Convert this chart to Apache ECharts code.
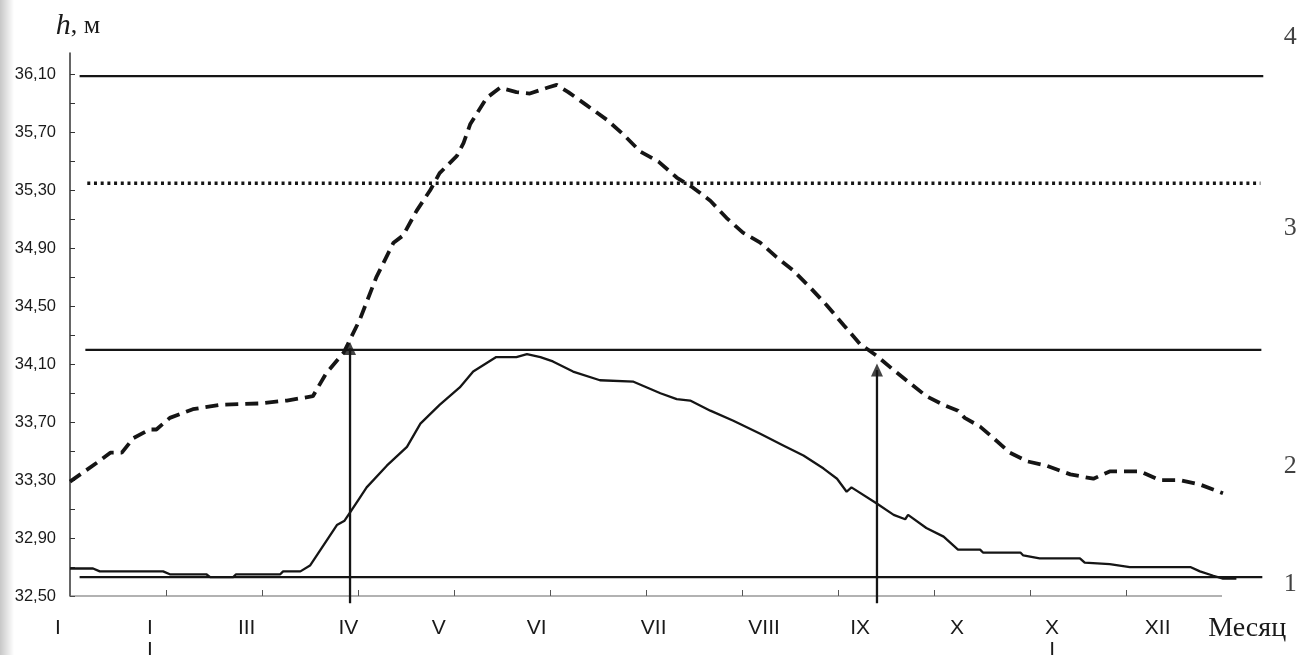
<!DOCTYPE html>
<html>
<head>
<meta charset="utf-8">
<script src="https://cdn.jsdelivr.net/npm/echarts@6/dist/echarts.min.js"></script>
<style>html,body{margin:0;padding:0;background:#fff;}#c{width:1302px;height:655px;}</style>
</head>
<body>
<div id="c"></div>
<script>
// ---- data (month position on x: 0 = start of January, 12 = end of December; level h in metres) ----
const curve1Month = [0.00,0.24,0.31,0.97,1.04,1.42,1.46,1.70,1.73,2.19,2.22,2.40,2.50,2.64,2.78,2.86,2.93,3.02,3.09,3.30,3.51,3.65,3.85,4.06,4.20,4.44,4.65,4.76,4.90,5.03,5.24,5.52,5.87,6.01,6.15,6.32,6.46,6.67,6.91,7.19,7.43,7.64,7.85,7.99,8.09,8.14,8.40,8.58,8.70,8.73,8.92,9.10,9.25,9.48,9.51,9.90,9.93,10.10,10.52,10.57,10.83,11.04,11.67,11.77,11.91,12.01,12.15];
const curve1Level = [32.69,32.69,32.67,32.67,32.65,32.65,32.63,32.63,32.65,32.65,32.67,32.67,32.71,32.85,32.99,33.02,33.09,33.18,33.25,33.40,33.53,33.69,33.82,33.94,34.05,34.15,34.15,34.17,34.15,34.12,34.05,33.99,33.98,33.94,33.90,33.86,33.85,33.78,33.71,33.62,33.54,33.47,33.38,33.31,33.22,33.25,33.14,33.06,33.03,33.06,32.97,32.91,32.82,32.82,32.80,32.80,32.78,32.76,32.76,32.73,32.72,32.70,32.70,32.67,32.64,32.62,32.62];

const curve2Month = [0.00,0.28,0.42,0.54,0.66,0.83,0.90,1.04,1.28,1.56,1.98,2.26,2.53,2.67,2.85,3.02,3.19,3.37,3.47,3.61,3.75,3.85,4.03,4.10,4.17,4.34,4.48,4.65,4.79,4.97,5.07,5.19,5.38,5.59,5.76,5.94,6.13,6.32,6.49,6.67,6.84,7.01,7.19,7.36,7.53,7.71,7.88,8.06,8.23,8.40,8.58,8.75,8.92,9.10,9.25,9.32,9.48,9.62,9.79,9.97,10.17,10.42,10.66,10.83,11.15,11.35,11.56,11.77,12.01];
const curve2Level = [33.29,33.42,33.49,33.49,33.59,33.65,33.65,33.73,33.79,33.82,33.83,33.85,33.88,34.04,34.18,34.41,34.70,34.94,34.99,35.16,35.30,35.42,35.54,35.63,35.76,35.94,36.01,35.98,35.97,36.01,36.03,35.98,35.89,35.79,35.69,35.57,35.50,35.39,35.32,35.23,35.11,35.01,34.94,34.84,34.75,34.63,34.51,34.37,34.24,34.16,34.06,33.97,33.88,33.82,33.78,33.73,33.67,33.59,33.49,33.43,33.40,33.34,33.31,33.36,33.36,33.30,33.30,33.27,33.21];

// reference levels: solid low, solid middle, dotted, solid top
const refLevels = [32.63, 34.20, 35.35, 36.09];
const refFrom   = [0.10, 0.16, 0.18, 0.10];
const refTo     = [12.42, 12.41, 12.40, 12.43];
const refDotted = [false, false, true, false];

// vertical arrows (IV and IX)
const arrowMonth = [2.917, 8.406];
const arrowBase  = [32.45, 32.45];
const arrowTip   = [34.21, 34.06];

// curve numbers on the right
const numMonth = [12.71, 12.71, 12.71, 12.71];
const numLevel = [32.58, 33.40, 35.04, 36.36];
const numText  = ['1', '2', '3', '4'];

// axes
const xAxisSpan = [0, 12];           // drawn month axis (Jan..Dec)
const xAxisFloor = 32.5;
const yTickValues = [32.5, 32.9, 33.3, 33.7, 34.1, 34.5, 34.9, 35.3, 35.7, 36.1];
const yTickLabels = ['32,50','32,90','33,30','33,70','34,10','34,50','34,90','35,30','35,70','36,10'];
const yMinorTicks = [32.5,32.7,32.9,33.1,33.3,33.5,33.7,33.9,34.1,34.3,34.5,34.7,34.9,35.1,35.3,35.5,35.7,35.9,36.1];
const monthLabelPos = [-0.125, 0.833, 1.84, 2.90, 3.84, 4.86, 6.08, 7.23, 8.23, 9.24, 10.23, 11.33];
const monthLabels = ['I', 'I\nI', 'III', 'IV', 'V', 'VI', 'VII', 'VIII', 'IX', 'X', 'X\nI', 'XII'];
const xTickValues = [1,2,3,4,5,6,7,8,9,10,11];

// ---- chart ----
const zip = (a, b) => a.map((v, i) => [v, b[i]]);
const ink = '#151515';
const series = [];

// month axis baseline (ends at December, shorter than the plot area)
series.push({
  type: 'line', clip: false, silent: true, showSymbol: false, symbol: 'none',
  data: [[xAxisSpan[0], xAxisFloor], [xAxisSpan[1], xAxisFloor]],
  lineStyle: { color: '#666', width: 1.2 }
});

refLevels.forEach((lv, i) => {
  series.push({
    type: 'line', clip: false, silent: true, showSymbol: false, symbol: 'none',
    data: [[refFrom[i], lv], [refTo[i], lv]],
    lineStyle: refDotted[i]
      ? { color: ink, width: 3.5, type: [3, 3.7], cap: 'butt' }
      : { color: ink, width: 2.3 }
  });
});

series.push({
  name: '1', type: 'line', clip: false, showSymbol: false, symbol: 'none',
  data: zip(curve1Month, curve1Level),
  lineStyle: { color: ink, width: 2.3 }
});
series.push({
  name: '2', type: 'line', clip: false, showSymbol: false, symbol: 'none',
  data: zip(curve2Month, curve2Level),
  lineStyle: { color: ink, width: 3.8, type: [13, 7], cap: 'butt' }
});

arrowMonth.forEach((m, i) => {
  series.push({
    type: 'line', clip: false, showSymbol: false, symbol: 'none', silent: true,
    data: [[m, arrowBase[i]], [m, arrowTip[i]]],
    lineStyle: { color: ink, width: 2.3 }
  });
});
series.push({
  type: 'scatter', clip: false, silent: true, symbol: 'triangle', symbolSize: [12, 13],
  itemStyle: { color: ink },
  data: zip(arrowMonth, arrowTip)
});

series.push({
  type: 'scatter', clip: false, silent: true, symbolSize: 1,
  itemStyle: { color: 'rgba(0,0,0,0)' },
  data: numMonth.map((m, i) => ({ value: [m, numLevel[i]], label: { formatter: numText[i] } })),
  label: { show: true, position: 'inside', color: '#111', fontFamily: 'Liberation Serif', fontSize: 26 }
});

const X_MAX = 12.45;
const option = {
  backgroundColor: '#fff',
  animation: false,
  graphic: [{
    type: 'rect', left: 0, top: 0, silent: true,
    shape: { width: 14, height: 655 },
    style: { fill: { type: 'linear', x: 0, y: 0, x2: 1, y2: 0,
      colorStops: [{ offset: 0, color: 'rgba(0,0,0,0.22)' }, { offset: 1, color: 'rgba(0,0,0,0)' }] } }
  }],
  grid: [
    { left: 70, right: 36.8, top: 53, bottom: 59, outerBoundsMode: 'none', containLabel: false },
    { left: 22, right: 36.8, top: 53, bottom: 59, outerBoundsMode: 'none', containLabel: false }
  ],
  xAxis: [{
    type: 'value', gridIndex: 0, min: 0, max: X_MAX,
    axisLine: { show: false },
    axisTick: { show: true, inside: true, length: 6, customValues: xTickValues, lineStyle: { color: '#555', width: 1 } },
    axisLabel: { show: false },
    splitLine: { show: false }
  }, {
    type: 'value', gridIndex: 1, min: -0.5, max: X_MAX,
    axisLine: { show: false }, axisTick: { show: false }, splitLine: { show: false },
    axisLabel: {
      show: true, customValues: monthLabelPos, margin: 21, verticalAlign: 'top',
      fontFamily: 'Liberation Sans', fontSize: 21, color: '#1a1a1a', lineHeight: 22,
      formatter: v => { const i = monthLabelPos.indexOf(v); return i >= 0 ? monthLabels[i] : ''; }
    },
    name: 'Месяц', nameLocation: 'end', nameGap: -57,
    nameTextStyle: { fontFamily: 'Liberation Serif', fontSize: 28, color: '#1a1a1a', align: 'left', verticalAlign: 'top', padding: [19, 0, 0, 0] }
  }],
  yAxis: [{
    type: 'value', gridIndex: 0, min: 32.5, max: 36.25,
    axisLine: { show: true, lineStyle: { color: '#333', width: 1.5 } },
    axisTick: { show: true, inside: true, length: 5, customValues: yMinorTicks, lineStyle: { color: '#333', width: 1 } },
    axisLabel: {
      show: true, customValues: yTickValues, margin: 14,
      fontFamily: 'Liberation Sans', fontSize: 16.5, color: '#1a1a1a',
      formatter: v => { const i = yTickValues.indexOf(v); return i >= 0 ? yTickLabels[i] : ''; }
    },
    splitLine: { show: false },
    name: '{i|h}{n|, м}', nameLocation: 'end', nameGap: 12,
    nameTextStyle: {
      padding: [0, 0, 0, 16],
      rich: {
        i: { fontFamily: 'Liberation Serif', fontStyle: 'italic', fontSize: 30, color: '#1a1a1a' },
        n: { fontFamily: 'Liberation Serif', fontSize: 26, color: '#1a1a1a' }
      }
    }
  }, {
    type: 'value', gridIndex: 1, min: 32.5, max: 36.25, show: false
  }],
  series: series
};

const chart = echarts.init(document.getElementById('c'), null, { renderer: 'canvas' });
chart.setOption(option);
</script>
</body>
</html>
